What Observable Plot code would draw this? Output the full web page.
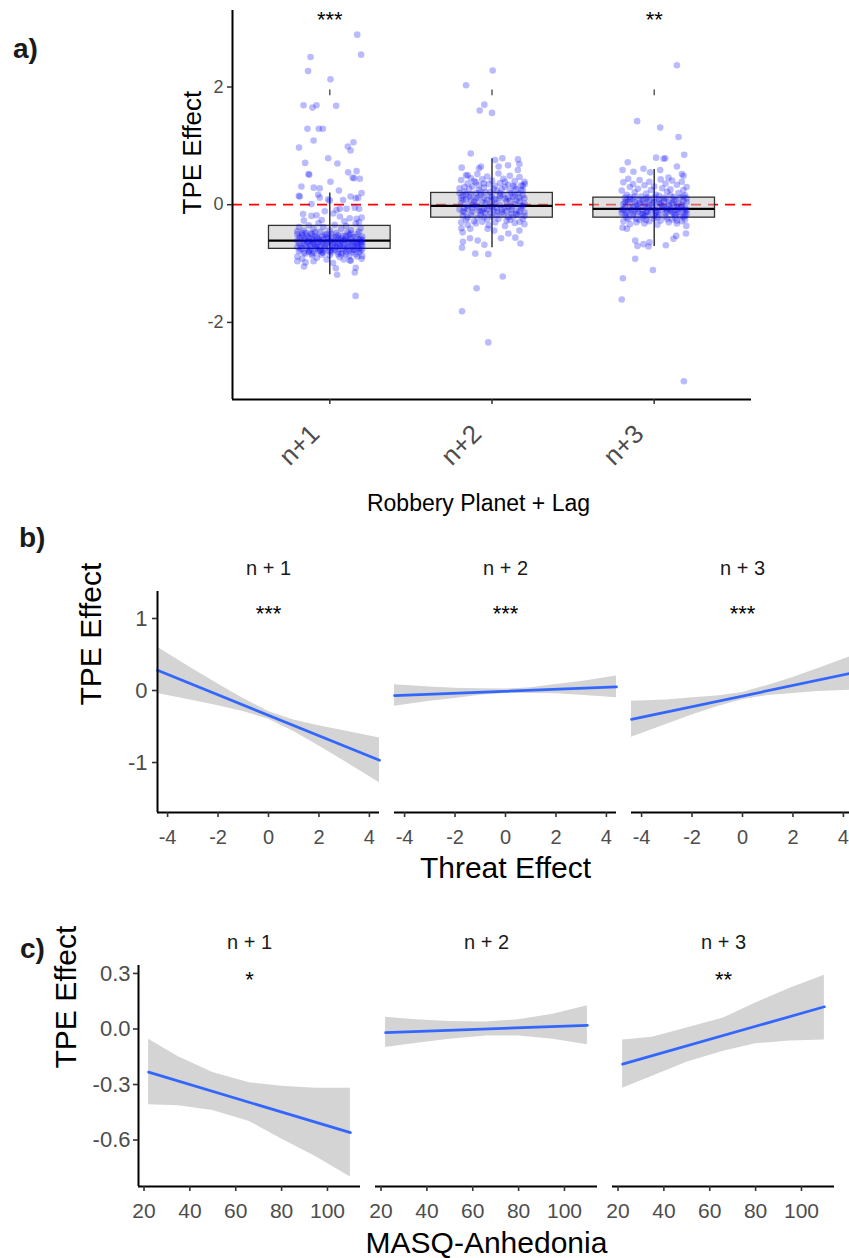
<!DOCTYPE html>
<html><head><meta charset="utf-8">
<script src="https://cdn.jsdelivr.net/npm/d3@7"></script>
<script src="https://cdn.jsdelivr.net/npm/@observablehq/plot@0.6"></script>
<style>
html,body{margin:0;padding:0;overflow:hidden;background:#fff;}
#wrap{position:relative;width:849px;height:1258px;overflow:hidden;font-family:"Liberation Sans",Arial,Helvetica,sans-serif;}
.pl{position:absolute;left:0;}
.pl svg{max-width:none !important;}
.tag{position:absolute;font-weight:bold;font-size:28px;line-height:28px;color:#1a1a1a;}
</style></head><body>
<div id="wrap">
  <div id="pa" class="pl" style="top:0px"></div>
  <div id="pb" class="pl" style="top:530px"></div>
  <div id="pc" class="pl" style="top:900px"></div>
  <div class="tag" style="left:13px;top:35px">a)</div>
  <div class="tag" style="left:19px;top:524px">b)</div>
  <div class="tag" style="left:20px;top:935px">c)</div>
</div>
<script>
// ---------- Panel a data ----------
const lagsA = ["n+1", "n+2", "n+3"];
const boxQ1 = [-0.75, -0.22, -0.22];
const boxMedian = [-0.61, -0.02, -0.07];
const boxQ3 = [-0.36, 0.20, 0.12];
const whiskerLow = [-1.19, -0.73, -0.71];
const whiskerHigh = [0.20, 0.78, 0.60];
const sigA = ["***", "", "**"];
const sigMarkLow = 1.85, sigMarkHigh = 1.95;
const ticksA = [-2, 0, 2];

// jittered points: [horizontal jitter (category units), TPE effect]
const ptsN1 = [
 [0.169,2.89],[0.193,2.55],[-0.119,2.51],[-0.134,2.27],[0.004,2.13],[-0.162,1.69],[-0.107,1.65],[-0.082,1.69],[0.039,1.68],
 [-0.138,1.29],[-0.068,1.29],[-0.043,1.29],[-0.1,1.09],[0.146,1.06],[-0.19,0.97],[0.111,0.99],[0.128,0.92],[-0.01,0.79],
 [-0.152,0.71],[0.047,0.70],[-0.131,0.52],[-0.127,0.51],[0.113,0.55],[0.165,0.57],[0.14,0.46],[0.15,0.45],[0.185,0.44],
 [0.004,0.39],[-0.175,0.31],[-0.099,0.29],[-0.062,0.28],[0.056,0.24],[-0.191,0.15],[-0.185,0.14],[-0.072,0.17],[-0.062,0.12],
 [0.128,0.14],[0.175,0.12],[0.196,0.2],[-0.01,0.09],[0,0.07],[0.082,0.08],[0.16,0.11],[-0.113,0.01],
 [0.041,-0.09],[0.062,-0.07],[0.103,-0.07],[0.154,-0.05],[0.181,-0.07],[-0.165,-0.16],[-0.113,-0.19],[-0.082,-0.18],
 [-0.031,-0.11],[0.021,-0.15],[0.062,-0.2],[0.123,-0.23],[0.165,-0.24],[0.196,-0.22],
 [0.037,-1.08],[0.045,-1.19],[0.154,-1.15],[0.16,-1.07],[-0.2,-0.96],[-0.159,-1.05],[-0.15,-0.98],[0.086,-0.93],[0.123,-0.95],
 [0.196,-0.92],[0.159,-1.55],
 [-0.19,-0.38],[-0.17,-0.52],[-0.2,-0.61],[-0.18,-0.7],[-0.19,-0.79],[-0.2,-0.88],[-0.16,-0.44],[-0.15,-0.58],[-0.16,-0.66],
 [-0.14,-0.74],[-0.15,-0.83],[-0.17,-0.92],[-0.13,-0.35],[-0.12,-0.49],[-0.13,-0.56],[-0.11,-0.63],[-0.12,-0.71],[-0.13,-0.78],
 [-0.11,-0.86],[-0.1,-0.41],[-0.09,-0.53],[-0.1,-0.6],[-0.08,-0.68],[-0.09,-0.75],[-0.1,-0.81],[-0.08,-0.9],[-0.07,-0.31],
 [-0.06,-0.46],[-0.07,-0.57],[-0.05,-0.64],[-0.06,-0.72],[-0.07,-0.79],[-0.05,-0.85],[-0.04,-0.38],[-0.03,-0.51],[-0.04,-0.59],
 [-0.02,-0.66],[-0.03,-0.74],[-0.04,-0.82],[-0.02,-0.93],[0,-0.44],[0.01,-0.55],[0,-0.62],[0.02,-0.69],[0.01,-0.77],[0,-0.86],
 [0.03,-0.34],[0.04,-0.48],[0.05,-0.58],[0.03,-0.65],[0.04,-0.72],[0.05,-0.8],[0.06,-0.89],[0.07,-0.41],[0.08,-0.53],[0.07,-0.61],
 [0.09,-0.68],[0.08,-0.75],[0.07,-0.84],[0.1,-0.36],[0.11,-0.47],[0.1,-0.57],[0.12,-0.64],[0.11,-0.71],[0.1,-0.79],[0.12,-0.87],
 [0.13,-0.43],[0.14,-0.55],[0.15,-0.62],[0.13,-0.69],[0.14,-0.77],[0.16,-0.84],[0.16,-0.32],[0.17,-0.5],[0.18,-0.59],[0.16,-0.66],
 [0.17,-0.73],[0.18,-0.81],[0.19,-0.4],[0.2,-0.54],[0.19,-0.63],[0.2,-0.7],[0.19,-0.78],[0.2,-0.87],
 [-0.18,-0.56],[-0.14,-0.64],[-0.11,-0.58],[-0.06,-0.61],[-0.01,-0.58],[0.03,-0.6],[0.06,-0.66],[0.09,-0.6],[0.13,-0.58],[0.17,-0.64],
 [-0.17,-0.74],[-0.12,-0.67],[-0.08,-0.72],[-0.03,-0.7],[0.02,-0.74],[0.06,-0.7],[0.11,-0.75],[0.15,-0.72],[0.19,-0.67],
 [-0.2,-0.5],[-0.15,-0.48],[-0.09,-0.47],[-0.02,-0.5],[0.05,-0.52],[0.12,-0.51],[0.18,-0.46],[-0.19,-0.66],[-0.13,-0.8],
 [-0.06,-0.78],[0.01,-0.81],[0.08,-0.82],[0.14,-0.81],[-0.16,-0.27],[-0.05,-0.26],[0.09,-0.28],[0.18,-0.3],[-0.1,-0.96],
 [0.02,-0.99],[0.13,-0.95],[-0.2,-0.45],[0.2,-0.6],[0.2,-0.76],
 [-0.19,-0.55],[-0.16,-0.6],[-0.13,-0.62],[-0.1,-0.66],[-0.07,-0.63],[-0.04,-0.67],[-0.01,-0.63],[0.02,-0.64],[0.05,-0.68],
 [0.08,-0.64],[0.11,-0.61],[0.14,-0.67],[0.17,-0.69],[0.2,-0.65],[-0.18,-0.76],[-0.15,-0.69],[-0.12,-0.76],[-0.09,-0.7],
 [-0.06,-0.76],[-0.03,-0.78],[0,-0.72],[0.03,-0.77],[0.06,-0.75],[0.09,-0.72],[0.12,-0.78],[0.15,-0.77],[0.18,-0.75],
 [-0.17,-0.48],[-0.14,-0.53],[-0.11,-0.5],[-0.08,-0.56],[-0.05,-0.54],[-0.02,-0.55],[0.01,-0.5],[0.04,-0.55],[0.07,-0.57],
 [0.1,-0.53],[0.13,-0.49],[0.16,-0.55],[0.19,-0.58],[-0.2,-0.72],[-0.16,-0.82],[-0.11,-0.83],[-0.05,-0.81],[0,-0.79],
 [0.05,-0.84],[0.1,-0.84],[0.17,-0.88]
];
const ptsN2 = [
 [0.004,2.28],[-0.16,2.03],[-0.047,1.70],[-0.076,1.60],[0,1.56],[-0.131,0.87],[-0.187,0.63],[-0.068,0.65],[-0.08,0.62],
 [0.099,0.67],[0.041,0.65],[0.064,0.79],[0.019,0.76],[0.16,0.77],[0.169,0.69],[0.159,0.59],[0.202,0.35],[-0.15,0.5],
 [-0.185,-0.73],[-0.103,-0.83],[-0.023,-0.84],[-0.047,-0.68],[-0.088,-0.61],[-0.136,-0.57],[-0.179,-0.63],[0.056,-0.57],
 [0.101,-0.49],[0.144,-0.56],[0.175,-0.66],[0.066,-1.22],[-0.095,-1.42],[-0.185,-1.81],[-0.023,-2.34],[-0.189,-0.4],
 [-0.181,-0.47],[-0.134,-0.41],[0.014,-0.44],[-0.027,-0.41],[0.169,-0.44],[0.2,-0.33],
 [-0.19,0.42],[-0.2,0.28],[-0.18,0.15],[-0.19,0.03],[-0.2,-0.08],[-0.18,-0.19],[-0.19,-0.3],
 [-0.16,0.5],[-0.15,0.36],[-0.17,0.22],[-0.16,0.09],[-0.15,-0.02],[-0.17,-0.13],[-0.16,-0.25],[-0.15,-0.34],
 [-0.13,0.45],[-0.12,0.31],[-0.13,0.18],[-0.11,0.05],[-0.12,-0.06],[-0.13,-0.17],[-0.11,-0.28],
 [-0.09,0.52],[-0.1,0.38],[-0.08,0.25],[-0.09,0.12],[-0.1,0.0],[-0.08,-0.1],[-0.09,-0.22],[-0.1,-0.32],
 [-0.06,0.43],[-0.05,0.29],[-0.07,0.16],[-0.06,0.04],[-0.05,-0.07],[-0.07,-0.18],[-0.06,-0.29],
 [-0.03,0.48],[-0.02,0.35],[-0.04,0.21],[-0.03,0.08],[-0.02,-0.03],[-0.04,-0.14],[-0.03,-0.25],[-0.02,-0.35],
 [0,0.41],[0.01,0.27],[0,0.14],[0.02,0.02],[0.01,-0.09],[0,-0.2],[0.02,-0.3],
 [0.04,0.53],[0.05,0.37],[0.03,0.23],[0.04,0.1],[0.05,-0.01],[0.03,-0.12],[0.04,-0.24],
 [0.07,0.44],[0.08,0.3],[0.07,0.17],[0.09,0.06],[0.08,-0.05],[0.07,-0.16],[0.09,-0.27],[0.08,-0.36],
 [0.11,0.49],[0.1,0.34],[0.12,0.2],[0.11,0.07],[0.1,-0.04],[0.12,-0.15],[0.11,-0.26],
 [0.14,0.4],[0.15,0.26],[0.13,0.13],[0.14,0.01],[0.15,-0.1],[0.13,-0.21],[0.14,-0.31],
 [0.17,0.47],[0.18,0.33],[0.16,0.19],[0.17,0.06],[0.18,-0.06],[0.16,-0.17],[0.17,-0.29],
 [0.2,0.39],[0.19,0.24],[0.2,0.11],[0.19,-0.02],[0.2,-0.13],[0.19,-0.24],
 [-0.18,0.08],[-0.14,0.14],[-0.1,0.2],[-0.05,0.12],[0,0.06],[0.05,0.15],[0.1,0.12],[0.15,0.07],[0.19,0.16],
 [-0.17,-0.05],[-0.12,0.0],[-0.07,-0.12],[-0.01,-0.15],[0.06,-0.08],[0.12,-0.09],[0.17,-0.12],
 [-0.2,0.2],[-0.14,0.27],[-0.08,0.33],[-0.01,0.22],[0.06,0.27],[0.13,0.32],[0.18,0.25],
 [-0.15,-0.22],[-0.05,-0.21],[0.03,-0.18],[0.1,-0.21],[0.2,-0.19],
 [-0.19,0.12],[-0.16,0.18],[-0.13,0.08],[-0.1,0.1],[-0.07,0.21],[-0.04,0.03],[-0.01,0.14],[0.02,0.09],[0.05,0.2],[0.08,0.1],
 [0.11,0.23],[0.14,0.16],[0.17,0.12],[0.2,0.02],[-0.18,-0.11],[-0.15,-0.07],[-0.12,-0.12],[-0.09,-0.04],[-0.06,-0.1],
 [-0.03,-0.08],[0,-0.04],[0.03,-0.06],[0.06,-0.13],[0.09,-0.11],[0.12,-0.03],[0.15,-0.16],[0.18,-0.02],
 [-0.17,0.3],[-0.11,0.4],[-0.05,0.36],[0.02,0.32],[0.08,0.39],[0.14,0.3],[0.19,0.32]
];
const ptsN3 = [
 [0.14,2.37],[-0.105,1.42],[0.037,1.31],[0.15,1.15],[0.185,0.85],[0.012,0.8],[0.058,0.78],[0.068,0.79],[-0.163,0.72],
 [-0.195,0.59],[-0.128,0.56],[-0.066,0.61],[-0.025,0.55],[0.037,0.59],[0.088,0.46],[0.14,0.65],[0.171,0.52],[0.181,0.49],
 [-0.117,-0.92],[-0.008,-1.11],[-0.193,-1.25],[-0.2,-1.61],[0.183,-3.0],[-0.117,-0.61],[-0.103,-0.7],[-0.035,-0.71],
 [-0.066,-0.67],[-0.029,-0.64],[0.072,-0.69],[0.119,-0.58],[0.196,-0.49],[0.198,-0.36],[0.136,-0.53],[-0.195,-0.39],[-0.168,-0.41],
 [-0.19,0.38],[-0.2,0.24],[-0.18,0.12],[-0.19,0.01],[-0.2,-0.09],[-0.18,-0.18],[-0.19,-0.28],
 [-0.16,0.44],[-0.15,0.3],[-0.17,0.17],[-0.16,0.05],[-0.15,-0.05],[-0.17,-0.14],[-0.16,-0.24],[-0.15,-0.33],
 [-0.13,0.35],[-0.12,0.21],[-0.13,0.09],[-0.11,-0.01],[-0.12,-0.11],[-0.13,-0.2],[-0.11,-0.3],
 [-0.09,0.42],[-0.1,0.27],[-0.08,0.14],[-0.09,0.03],[-0.1,-0.07],[-0.08,-0.16],[-0.09,-0.26],
 [-0.06,0.33],[-0.05,0.19],[-0.07,0.07],[-0.06,-0.03],[-0.05,-0.12],[-0.07,-0.22],[-0.06,-0.32],
 [-0.03,0.39],[-0.02,0.25],[-0.04,0.12],[-0.03,0.0],[-0.02,-0.09],[-0.04,-0.18],[-0.03,-0.28],
 [0,0.31],[0.01,0.17],[0,0.05],[0.02,-0.05],[0.01,-0.14],[0,-0.24],[0.02,-0.34],
 [0.04,0.43],[0.05,0.28],[0.03,0.15],[0.04,0.02],[0.05,-0.08],[0.03,-0.17],[0.04,-0.27],
 [0.07,0.36],[0.08,0.22],[0.07,0.1],[0.09,-0.01],[0.08,-0.11],[0.07,-0.2],[0.09,-0.3],
 [0.11,0.41],[0.1,0.26],[0.12,0.13],[0.11,0.03],[0.1,-0.06],[0.12,-0.15],[0.11,-0.25],
 [0.14,0.34],[0.15,0.2],[0.13,0.08],[0.14,-0.03],[0.15,-0.12],[0.13,-0.22],[0.14,-0.32],
 [0.17,0.39],[0.18,0.25],[0.16,0.12],[0.17,0.0],[0.18,-0.09],[0.16,-0.19],[0.17,-0.28],
 [0.2,0.3],[0.19,0.16],[0.2,0.04],[0.19,-0.06],[0.2,-0.16],[0.19,-0.25],
 [-0.18,-0.04],[-0.14,-0.09],[-0.1,-0.13],[-0.04,-0.06],[0.01,-0.1],[0.06,-0.04],[0.1,-0.1],[0.15,-0.07],[0.19,-0.12],
 [-0.17,0.07],[-0.12,0.04],[-0.07,-0.16],[-0.01,0.03],[0.06,0.06],[0.12,-0.02],[0.18,0.06],
 [-0.2,-0.14],[-0.13,-0.16],[-0.06,-0.19],[0,-0.19],[0.07,-0.14],[0.13,-0.17],[0.18,-0.21],
 [-0.15,0.13],[-0.05,0.1],[0.03,0.09],[0.1,0.16],[0.2,0.11],
 [-0.19,-0.08],[-0.16,-0.12],[-0.13,-0.03],[-0.1,-0.02],[-0.07,-0.09],[-0.04,-0.12],[-0.01,-0.05],[0.02,-0.12],[0.05,-0.02],
 [0.08,-0.07],[0.11,-0.13],[0.14,-0.09],[0.17,-0.04],[0.2,-0.09],[-0.18,0.04],[-0.15,0.09],[-0.12,0.14],[-0.09,0.08],
 [-0.06,0.02],[-0.03,0.07],[0,0.12],[0.03,0.04],[0.06,0.12],[0.09,0.05],[0.12,0.08],[0.15,0.02],[0.18,0.14],
 [-0.17,-0.22],[-0.11,-0.24],[-0.05,-0.26],[0.02,-0.22],[0.08,-0.24],[0.14,-0.27],[0.19,-0.19]
];

// ---------- Panel b data ----------
const lagsB = ["n + 1", "n + 2", "n + 3"];
const threatX = [-4.4, -3, -2, -1, 0, 1, 2, 3, 4.4];
const threatHi = [
  [0.60, 0.30, 0.09, -0.11, -0.29, -0.41, -0.49, -0.56, -0.66],
  [0.08, 0.05, 0.03, 0.025, 0.02, 0.04, 0.085, 0.125, 0.20],
  [-0.15, -0.13, -0.10, -0.075, -0.027, 0.07, 0.18, 0.305, 0.487]
];
const threatLo = [
  [-0.04, -0.14, -0.21, -0.29, -0.40, -0.57, -0.77, -0.98, -1.28],
  [-0.22, -0.15, -0.11, -0.065, -0.04, -0.04, -0.045, -0.065, -0.10],
  [-0.65, -0.47, -0.34, -0.225, -0.127, -0.07, -0.04, -0.015, 0.007]
];
const threatRange = [-4.4, 4.4];
const threatLineEnds = [[0.28, -0.97], [-0.07, 0.05], [-0.40, 0.247]];
const sigB = ["***", "***", "***"];
const ticksBx = [-4, -2, 0, 2, 4];
const ticksBy = [-1, 0, 1];

// ---------- Panel c data ----------
const masqX = [22, 35, 50, 66, 80, 95, 110];
const masqHi = [
  [-0.055, -0.15, -0.235, -0.29, -0.31, -0.32, -0.32],
  [0.063, 0.05, 0.04, 0.038, 0.05, 0.08, 0.125],
  [-0.06, -0.045, 0.005, 0.06, 0.14, 0.22, 0.29]
];
const masqLo = [
  [-0.41, -0.415, -0.44, -0.50, -0.595, -0.69, -0.80],
  [-0.10, -0.078, -0.055, -0.038, -0.038, -0.055, -0.085],
  [-0.32, -0.255, -0.18, -0.12, -0.08, -0.065, -0.06]
];
const masqRange = [22, 110];
const masqLineEnds = [[-0.233, -0.56], [-0.02, 0.02], [-0.19, 0.12]];
const sigC = ["*", "", "**"];
const ticksCx = [20, 40, 60, 80, 100];
const ticksCy = [-0.6, -0.3, 0, 0.3];

// ---------- common style ----------
const FONT = '"Liberation Sans", Arial, Helvetica, sans-serif';
const TICKTXT = "#4d4d4d";
const TICKLINE = "#333333";
const svgStyle = {fontFamily: FONT, fontSize: "18px", background: "transparent", overflow: "visible", color: "#000", maxWidth: "none"};

// ---------- Panel a ----------
const boxes = lagsA.map((lag, i) => ({lag, pos: i + 1, q1: boxQ1[i], med: boxMedian[i], q3: boxQ3[i], lo: whiskerLow[i], hi: whiskerHigh[i], sig: sigA[i]}));
const ptsA = [ptsN1, ptsN2, ptsN3].flatMap((arr, i) => arr.map(([j, v]) => ({jx: i + 1 + j, v})));
const yA = [-3.31, 3.30];

const plotA = Plot.plot({
  width: 849, height: 530,
  marginLeft: 232, marginRight: 98, marginTop: 10, marginBottom: 131,
  style: svgStyle,
  x: {domain: [0.4, 3.6]},
  y: {domain: yA},
  marks: [
    Plot.ruleY([0], {stroke: "#ff0000", strokeWidth: 1.7, strokeDasharray: "10,7"}),
    Plot.rect(boxes, {x1: d => d.pos - 0.375, x2: d => d.pos + 0.375, y1: "q1", y2: "q3", fill: "#c4c4c4", fillOpacity: 0.5, stroke: "#333333", strokeWidth: 1.3}),
    Plot.ruleX(boxes, {x: "pos", y1: "lo", y2: "hi", stroke: "#1a1a1a", strokeWidth: 1.3}),
    Plot.ruleY(boxes, {y: "med", x1: d => d.pos - 0.375, x2: d => d.pos + 0.375, stroke: "#000", strokeWidth: 2.2}),
    Plot.ruleX(boxes, {x: "pos", y1: sigMarkLow, y2: sigMarkHigh, stroke: "#333", strokeWidth: 1.2}),
    Plot.dot(ptsA, {x: "jx", y: "v", r: 3.3, fill: "#0000ff", fillOpacity: 0.27}),
    Plot.text(boxes, {x: "pos", y: 3.135, text: "sig", fontSize: 22, fill: "#000"}),
    Plot.ruleX([0.4], {stroke: "#000", strokeWidth: 2}),
    Plot.ruleY([yA[0]], {stroke: "#000", strokeWidth: 2}),
    Plot.axisY({ticks: ticksA, tickFormat: d => String(d), tickSize: 5, tickPadding: 4, fontSize: 18, fill: TICKTXT, stroke: TICKLINE, strokeWidth: 1.5, label: null}),
    Plot.axisX({ticks: [1, 2, 3], tickFormat: () => "", tickSize: 5, stroke: TICKLINE, strokeWidth: 1.5, label: null}),
    Plot.text(boxes, {x: "pos", text: "lag", frameAnchor: "bottom", rotate: -45, textAnchor: "end", lineAnchor: "top", dx: -22, dy: 23, fontSize: 26, fill: TICKTXT}),
    Plot.text(["Robbery Planet + Lag"], {text: d => d, frameAnchor: "bottom", lineAnchor: "middle", dx: -13.5, dy: 104.5, fontSize: 23, fill: "#000"}),
    Plot.text(["TPE Effect"], {text: d => d, frameAnchor: "left", lineAnchor: "middle", rotate: -90, dx: -39.5, dy: 9.5, fontSize: 26, fill: "#000"})
  ]
});
document.getElementById("pa").appendChild(plotA);

// ---------- facet helper for panels b and c ----------
function facetPlot({lags, xs, his, los, range, ends, sigs, xDomain, yDomain, xTicks, yTicks, yFmt, sigY, xFont, yFont, yPad,
                    width, height, marginLeft, marginRight, marginTop, marginBottom, pad, xTitle, xTitleDy, yTitleDx, yTitleDy, sigX}) {
  const ribbon = lags.flatMap((lag, i) => xs.map((x, k) => ({lag, x, lo: los[i][k], hi: his[i][k]})));
  const lineData = lags.flatMap((lag, i) => range.map((x, k) => ({lag, x, y: ends[i][k]})));
  const strips = lags.map((lag, i) => ({lag, sig: sigs[i]}));
  return Plot.plot({
    width, height, marginLeft, marginRight, marginTop, marginBottom,
    style: svgStyle,
    fx: {domain: lags, paddingInner: pad, paddingOuter: 0, axis: null},
    x: {domain: xDomain},
    y: {domain: yDomain},
    marks: [
      Plot.areaY(ribbon, {fx: "lag", x: "x", y1: "lo", y2: "hi", fill: "#999999", fillOpacity: 0.42}),
      Plot.line(lineData, {fx: "lag", x: "x", y: "y", stroke: "#3366FF", strokeWidth: 2.7}),
      Plot.text(strips, {fx: "lag", frameAnchor: "top", lineAnchor: "middle", dy: -23, text: "lag", fontSize: 20, fill: "#1a1a1a"}),
      Plot.text(strips, {fx: "lag", x: sigX, y: sigY, text: "sig", fontSize: 22, fill: "#000"}),
      Plot.ruleY([yDomain[0]], {stroke: "#000", strokeWidth: 2}),
      Plot.ruleX([{lag: lags[0]}], {fx: "lag", x: () => xDomain[0], stroke: "#000", strokeWidth: 2}),
      Plot.axisX({ticks: xTicks, tickFormat: d => String(d), tickSize: 5, tickPadding: 12, fontSize: xFont, fill: TICKTXT, stroke: TICKLINE, strokeWidth: 1.6, label: null}),
      Plot.axisY({ticks: yTicks, tickFormat: yFmt, tickSize: 5, tickPadding: yPad, fontSize: yFont, fill: TICKTXT, stroke: TICKLINE, strokeWidth: 1.6, label: null, facetAnchor: "left-empty"}),
      Plot.text([{lag: lags[1]}], {fx: "lag", frameAnchor: "bottom", lineAnchor: "middle", dy: xTitleDy, text: () => xTitle, fontSize: 30, fill: "#000"}),
      Plot.text([{lag: lags[0]}], {fx: "lag", frameAnchor: "left", lineAnchor: "middle", rotate: -90, dx: yTitleDx, dy: yTitleDy, text: () => "TPE Effect", fontSize: 30, fill: "#000"})
    ]
  });
}

const plotB = facetPlot({
  lags: lagsB, xs: threatX, his: threatHi, los: threatLo, range: threatRange, ends: threatLineEnds, sigs: sigB,
  xDomain: [-4.4, 4.4], yDomain: [-1.694, 1.375], xTicks: ticksBx, yTicks: ticksBy, yFmt: d => String(d), sigY: 1.07, sigX: 0,
  xFont: 20, yFont: 22, yPad: 5,
  width: 870, height: 360, marginLeft: 157, marginRight: 17, marginTop: 61, marginBottom: 78, pad: 0.0633,
  xTitle: "Threat Effect", xTitleDy: 56, yTitleDx: -66, yTitleDy: 3.5
});
document.getElementById("pb").appendChild(plotB);

const plotC = facetPlot({
  lags: lagsB, xs: masqX, his: masqHi, los: masqLo, range: masqRange, ends: masqLineEnds, sigs: sigC,
  xDomain: [17.6, 114.4], yDomain: [-0.851, 0.343], xTicks: ticksCx, yTicks: ticksCy, yFmt: d => d.toFixed(1), sigY: 0.265, sigX: 66,
  xFont: 21, yFont: 22, yPad: 3,
  width: 849, height: 358, marginLeft: 137, marginRight: 15, marginTop: 65, marginBottom: 72, pad: 0.0653,
  xTitle: "MASQ-Anhedonia", xTitleDy: 56.5, yTitleDx: -72.5, yTitleDy: -7.5
});
document.getElementById("pc").appendChild(plotC);
</script>
</body></html>
